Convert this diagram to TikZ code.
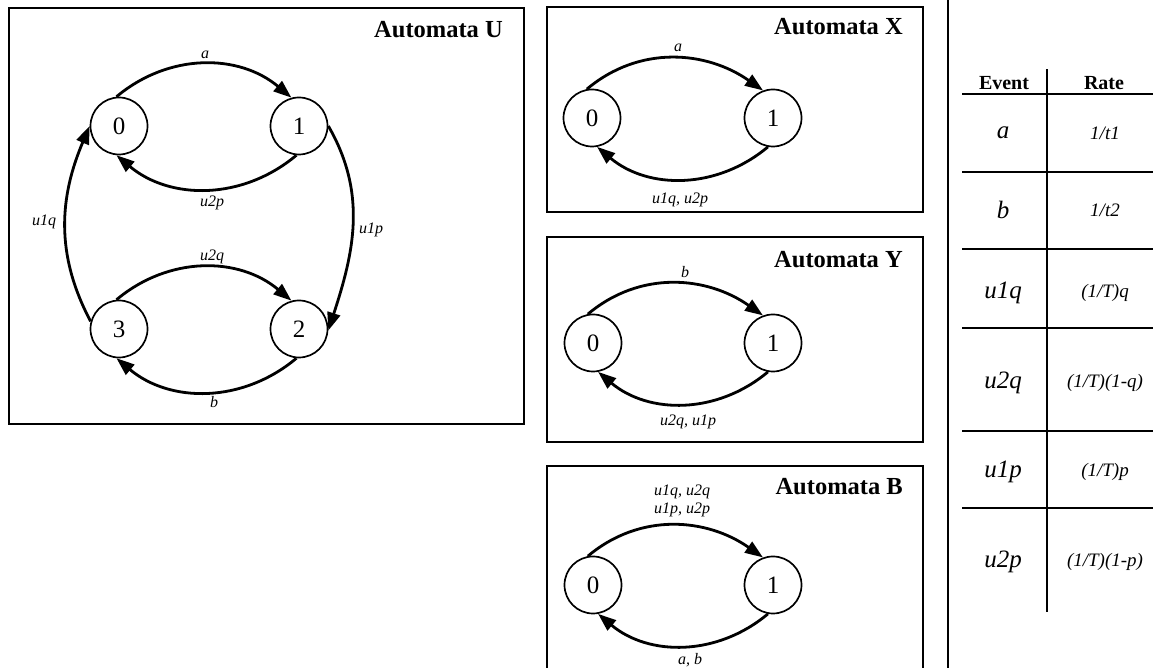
\documentclass[tikz,border=0pt]{standalone}
\usepackage{fontspec}
\setmainfont{Liberation Serif}
\usetikzlibrary{arrows.meta}
\begin{document}
\begin{tikzpicture}[x=1pt,y=1pt,
  state/.style={circle,draw,line width=1.7pt,minimum size=57pt,inner sep=0pt,font=\fontsize{25}{25}\selectfont},
  trans/.style={line width=2.8pt,-{Triangle[length=18pt,width=13pt]}},
  elabel/.style={font=\fontsize{16}{18}\selectfont\itshape,inner sep=0pt,align=center},
  ptitle/.style={font=\fontsize{24.5}{25}\selectfont\bfseries,anchor=east,inner sep=0pt},
  panel/.style={draw,line width=2.3pt},
  tline/.style={line width=2.8pt},
  evt/.style={font=\fontsize{25}{25}\selectfont\itshape,inner sep=0pt},
  rate/.style={font=\fontsize{19}{19}\selectfont\itshape,inner sep=0pt},
  hdr/.style={font=\fontsize{20}{20}\selectfont\bfseries,inner sep=0pt}]
\useasboundingbox (0,0) rectangle (1153,668);
\clip (0,0) rectangle (1153,668);

% ---------- Automata U ----------
\draw[panel] (9,244) rectangle (524,660);
\node[ptitle] (tU) at (503,638) {Automata U};
\node[state] (u0) at (119,542) {0};
\node[state] (u1) at (299,542) {1};
\node[state] (u3) at (119,339) {3};
\node[state] (u2) at (299,339) {2};
\draw[trans] (u0.95) to[out=40,in=140] (u1.105);
\draw[trans] (u1.-95) to[out=-140,in=-40] (u0.-95);
\draw[trans] (u3.165) to[out=118,in=-113] (u0.180);
\draw[trans] (u1.0) to[out=-60,in=72] (u2.-3);
\draw[trans] (u3.95) to[out=40,in=140] (u2.105);
\draw[trans] (u2.-95) to[out=-140,in=-40] (u3.-95);
\node[elabel] (la) at (205,613) {a};
\node[elabel] (lu2p) at (212,465) {u2p};
\node[elabel] (lu1q) at (44,446) {u1q};
\node[elabel] (lu1p) at (371,438) {u1p};
\node[elabel] (lu2q) at (212,411) {u2q};
\node[elabel] (lb) at (214,266) {b};

% ---------- Automata X ----------
\draw[panel] (547,456) rectangle (923,661);
\node[ptitle] (tX) at (903,641) {Automata X};
\node[state] (x0) at (592,550) {0};
\node[state] (x1) at (773,550) {1};
\draw[trans] (x0.100) to[out=40,in=145] (x1.110);
\draw[trans] (x1.-100) to[out=-140,in=-40] (x0.-80);
\node[elabel] (xa) at (678,620) {a};
\node[elabel] (xr) at (680,468) {u1q, u2p};

% ---------- Automata Y ----------
\draw[panel] (547,226) rectangle (923,431);
\node[ptitle] (tY) at (903,408) {Automata Y};
\node[state] (y0) at (593,325) {0};
\node[state] (y1) at (773,325) {1};
\draw[trans] (y0.100) to[out=40,in=145] (y1.110);
\draw[trans] (y1.-100) to[out=-140,in=-40] (y0.-80);
\node[elabel] (yb) at (685,396) {b};
\node[elabel] (yr) at (688,246) {u2q, u1p};

% ---------- Automata B ----------
\draw[panel] (547,-10) -- (547,202) -- (923,202) -- (923,-10);
\node[ptitle] (tB) at (903,181) {Automata B};
\node[state] (b0) at (593,83) {0};
\node[state] (b1) at (773,83) {1};
\draw[trans] (b0.100) to[out=40,in=145] (b1.110);
\draw[trans] (b1.-100) to[out=-140,in=-40] (b0.-80);
\node[elabel] (bt) at (682,167) {u1q, u2q\\u1p, u2p};
\node[elabel] (bb) at (690,8) {a, b};

% ---------- Table ----------
\draw[tline] (948,0) -- (948,668);
\draw[tline] (1047,56) -- (1047,599);
\draw[tline] (962,574) -- (1153,574);
\draw[tline] (962,496) -- (1153,496);
\draw[tline] (962,419) -- (1153,419);
\draw[tline] (962,340) -- (1153,340);
\draw[tline] (962,237) -- (1153,237);
\draw[tline] (962,160) -- (1153,160);
\node[hdr] (hE) at (1004,585) {Event};
\node[hdr] (hR) at (1104,585) {Rate};
\node[evt] (e1) at (1003,535) {a};
\node[evt] (e2) at (1003,458) {b};
\node[evt] (e3) at (1003,375) {u1q};
\node[evt] (e4) at (1003,285) {u2q};
\node[evt] (e5) at (1003,196) {u1p};
\node[evt] (e6) at (1003,106) {u2p};
\node[rate] (r1) at (1105,535) {1/t1};
\node[rate] (r2) at (1105,458) {1/t2};
\node[rate] (r3) at (1105,375) {(1/T)q};
\node[rate] (r4) at (1105,285) {(1/T)(1-q)};
\node[rate] (r5) at (1105,196) {(1/T)p};
\node[rate] (r6) at (1105,106) {(1/T)(1-p)};
\end{tikzpicture}
\end{document}
